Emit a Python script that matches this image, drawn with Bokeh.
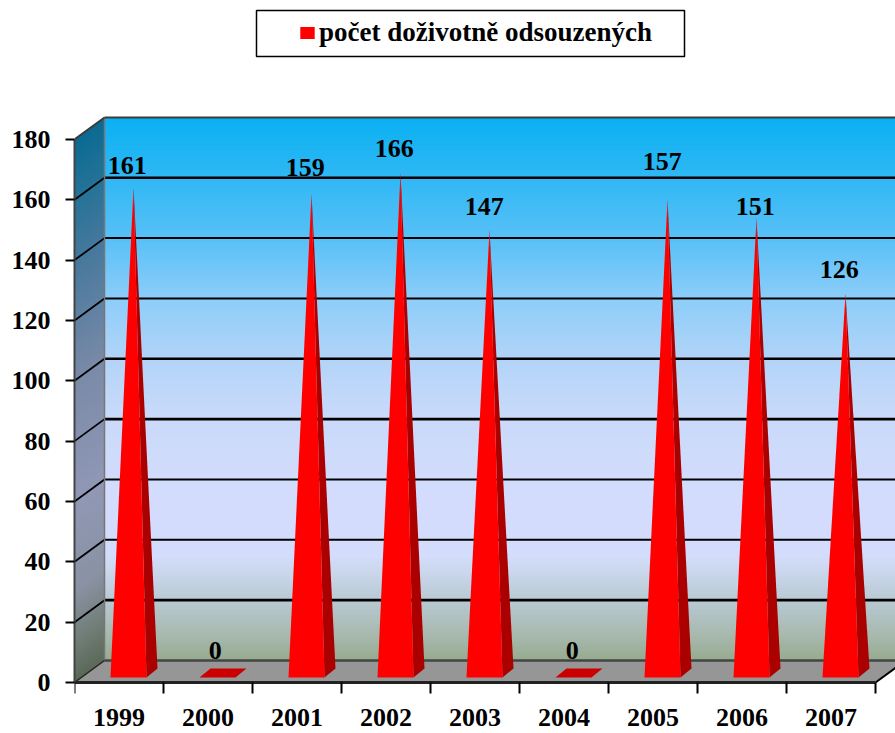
from bokeh.plotting import figure
from bokeh.embed import file_html
from bokeh.resources import INLINE
from bokeh.models import ColumnDataSource, FixedTicker, Legend, LegendItem, LinearAxis
from bokeh.core.properties import value

# ---- data ----
years = ["1999", "2000", "2001", "2002", "2003", "2004", "2005", "2006", "2007"]
counts = [161, 0, 159, 166, 147, 0, 157, 151, 126]
y_ticks = [0, 20, 40, 60, 80, 100, 120, 140, 160, 180]
series_name = "počet doživotně odsouzených"

# ---- layout / style ----
FONT = "Liberation Serif"
PPX = 89.0      # pixels per category
PPY = 3.017     # pixels per value unit
W, H = 895, 733
LEFT, ZERO_Y = 74, 682
DX, DY = 30 / PPX, 22 / PPY          # depth of the 3D box
# label nudges in pixels (dx, dy), as the labels were hand-placed in the original
label_nudge = [(1, 2), (0, 1), (1, -2), (1, 0), (2, 1), (1, 1), (2, -14), (6, 13), (1, 0)]

back_stops = [(180, "#0ab0f2"), (160, "#30b8f5"), (140, "#58c0f7"), (120, "#8ccdf9"), (100, "#b2d4f8"),
              (80, "#cadafa"), (55, "#d3dcfc"), (35, "#d3dcfc"), (30, "#ccd8ee"), (20, "#b8c9d3"),
              (8, "#a7b8ac"), (0, "#95ab8f")]
side_stops = [(180, "#0a6a92"), (160, "#267398"), (140, "#45789c"), (100, "#7a8aa8"), (60, "#9098b5"),
              (30, "#8a92a4"), (12, "#6f7c74"), (0, "#5a6858")]


def shade(stops, v):
    for (v1, c1), (v0, c0) in zip(stops, stops[1:]):
        if v0 <= v <= v1:
            t = (v - v0) / (v1 - v0)
            rgb = [round(int(c0[i:i + 2], 16) + t * (int(c1[i:i + 2], 16) - int(c0[i:i + 2], 16))) for i in (1, 3, 5)]
            return "#%02x%02x%02x" % tuple(rgb)
    return stops[-1][1]


xmax = (W - LEFT) / PPX
ymax = ZERO_Y / PPY
ymin = -(H - ZERO_Y) / PPY
n = len(years)

p = figure(width=W, height=H, x_range=(0, xmax), y_range=(ymin, ymax), output_backend="svg",
           toolbar_location=None, x_axis_location=None, y_axis_location=None,
           min_border_left=LEFT, min_border_bottom=0, min_border_top=0, min_border_right=0,
           background_fill_color="white", border_fill_color="white", outline_line_color=None)
p.grid.visible = False

# back wall (gradient made of thin strips)
steps = list(range(0, 180))
p.quad(left=DX, right=xmax + 1, bottom=[s + DY for s in steps], top=[s + 1.5 + DY if s < 179 else s + 1 + DY for s in steps],
       fill_color=[shade(back_stops, s + 0.5) for s in steps], line_color=None)
# side wall
p.patches(xs=[[0, DX, DX, 0] for s in steps],
          ys=[[s, s + DY, s + (1.5 if s < 179 else 1) + DY, s + (1.5 if s < 179 else 1)] for s in steps],
          fill_color=[shade(side_stops, s + 0.5) for s in steps], line_color=None)
# floor
p.patch([0, DX, n + DX, n], [0, DY, DY, 0], fill_color="#969696", line_color=None)

# grid on back and side walls
grid_vals = y_ticks[1:-1]
grid_w = [2.6, 2, 2, 2.6, 2.6, 2, 2, 2.6]
p.multi_line(xs=[[DX, xmax + 1] for v in grid_vals], ys=[[v + DY, v + DY] for v in grid_vals],
             line_color="black", line_width=grid_w)
p.multi_line(xs=[[0, DX] for v in grid_vals], ys=[[v, v + DY] for v in grid_vals],
             line_color="black", line_width=1.8)
# box edges
p.line([DX, DX], [DY, 180 + DY], line_color="#777777", line_width=1.5)
p.line([DX, xmax + 1], [180 + DY, 180 + DY], line_color="#3c3c3c", line_width=2)
p.line([0, DX], [180, 180 + DY], line_color="#3c3c3c", line_width=2)
p.line([DX, xmax + 1], [DY, DY], line_color="#444444", line_width=2.5)
p.line([0, DX], [0, DY], line_color="#222222", line_width=1.5)
p.line([n, n + DX], [0, DY], line_color="black", line_width=2)

# spikes: front face + dark side face
BASE_W, SIDE_X, APEX_X = 36 / PPX, 11 / PPX, 23 / PPX
BASE_Y, SIDE_Y, APEX_Y = 5 / PPY, 14 / PPY, 3
front_x, front_y, side_x, side_y, flat_x, flat_y = [], [], [], [], [], []
for i, v in enumerate(counts):
    x0 = i + 36 / PPX
    x1 = x0 + BASE_W
    if v > 0:
        front_x.append([x0, x1, x0 + APEX_X])
        front_y.append([BASE_Y, BASE_Y, v + APEX_Y])
        side_x.append([x1, x1 + SIDE_X, x0 + APEX_X])
        side_y.append([BASE_Y, SIDE_Y, v + APEX_Y])
    else:
        flat_x.append([x0, x1, x1 + SIDE_X, x0 + SIDE_X])
        flat_y.append([BASE_Y, BASE_Y, SIDE_Y, SIDE_Y])
p.patches(side_x, side_y, fill_color="#aa0000", line_color=None)
front = p.patches(front_x, front_y, fill_color="#ff0000", line_color=None)
p.patches(flat_x, flat_y, fill_color="#cc0000", line_color=None)

# value labels
src = ColumnDataSource(dict(
    x=[i + 0.5 + 9 / PPX - 0.02 for i in range(n)],
    y=[v + APEX_Y for v in counts],
    t=[str(v) for v in counts],
    dx=[d[0] for d in label_nudge],
    dy=[d[1] - 24 for d in label_nudge],
))
p.text("x", "y", text="t", source=src, x_offset="dx", y_offset="dy", text_align="center", text_baseline="alphabetic",
       text_font=value(FONT), text_font_style="bold", text_font_size="26px", text_color="black")

# axes
ya = LinearAxis(ticker=FixedTicker(ticks=y_ticks), bounds=(0, 180))
ya.major_label_text_font = FONT
ya.major_label_text_font_style = "bold"
ya.major_label_text_font_size = "26px"
ya.major_label_text_color = "black"
ya.major_label_standoff = 15
ya.major_tick_in = 0
ya.major_tick_out = 9
ya.major_tick_line_color = "black"
ya.major_tick_line_width = 2
ya.minor_tick_line_color = None
ya.axis_line_color = "#444444"
ya.axis_line_width = 2
p.add_layout(ya, "left")

centers = [i + 0.5 for i in range(n)]
xa = LinearAxis(ticker=FixedTicker(ticks=centers, minor_ticks=list(range(n + 1))), bounds=(0, n), fixed_location=0)
xa.major_label_overrides = {c: y for c, y in zip(centers, years)}
xa.major_label_text_font = FONT
xa.major_label_text_font_style = "bold"
xa.major_label_text_font_size = "26px"
xa.major_label_text_color = "black"
xa.major_label_standoff = 15
xa.major_tick_line_color = None
xa.major_tick_in = 0
xa.major_tick_out = 0
xa.minor_tick_in = 0
xa.minor_tick_out = 11
xa.minor_tick_line_color = "black"
xa.minor_tick_line_width = 2
xa.axis_line_color = "#222222"
xa.axis_line_width = 3
p.add_layout(xa, "below")

# legend box and legend
p.quad(left=[(256 - LEFT) / PPX], right=[(684 - LEFT) / PPX],
       bottom=[(ZERO_Y - 56) / PPY], top=[(ZERO_Y - 10) / PPY],
       fill_color="white", line_color="black", line_width=1.5)
legend = Legend(items=[LegendItem(label=series_name, renderers=[front])],
                location=(298 - LEFT, H - 48), orientation="vertical", margin=0, padding=0,
                glyph_width=18, glyph_height=15, label_height=30, label_standoff=3,
                label_text_font=FONT, label_text_font_style="bold", label_text_font_size="27px",
                label_text_color="black", border_line_color=None,
                background_fill_alpha=0)
p.add_layout(legend, "center")

open("out.html", "w").write(file_html(p, INLINE))
